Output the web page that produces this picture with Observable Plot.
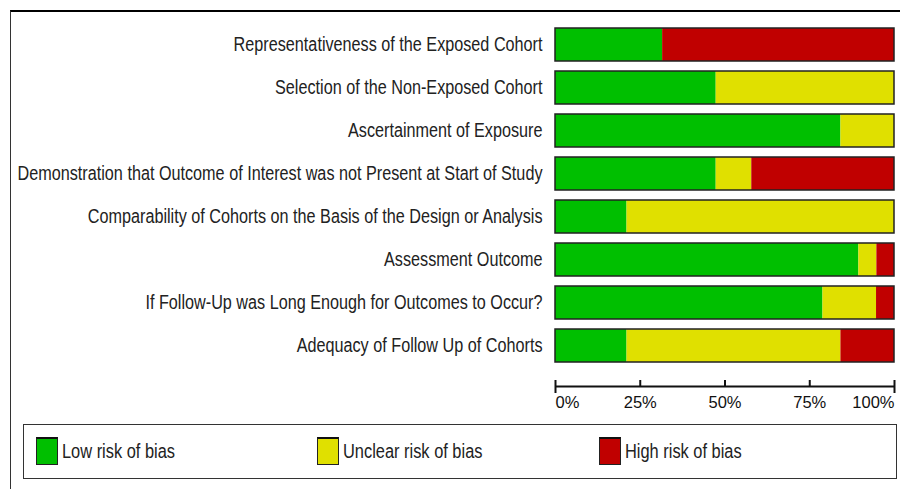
<!DOCTYPE html>
<html>
<head>
<meta charset="utf-8">
<script src="https://cdn.jsdelivr.net/npm/d3@7"></script>
<script src="https://cdn.jsdelivr.net/npm/@observablehq/plot@0.6"></script>
<style>
  html, body { margin: 0; padding: 0; background: #fff; }
  #page { position: relative; width: 900px; height: 489px; overflow: hidden; background: #fff;
          font-family: 'Liberation Sans', Arial, sans-serif; }
  #frame { position: absolute; left: 10px; top: 10px; width: 900px; height: 490px;
           border-top: 2px solid #000; border-left: 1.5px solid #333; }
  #chart { position: absolute; left: 0; top: 0; }
  #axis { position: absolute; left: 0; top: 370px; }
  #legend { position: absolute; left: 23px; top: 424px; width: 872px; height: 53px;
            border: 1.5px solid #333; background: #fff; }
  .item { position: absolute; top: 12px; display: flex; align-items: center; height: 28px; }
  .sw { width: 20px; height: 25px; border: 1px solid #222; border-top: 2px solid #111; margin-right: 4px; flex: none; }
  .lab { font-size: 20px; color: #222; line-height: 28px; display: inline-block;
         transform: scaleX(0.82); transform-origin: left center; white-space: nowrap; }
</style>
</head>
<body>
<div id="page">
  <div id="frame"></div>
  <div id="chart"></div>
  <div id="axis"></div>
  <div id="legend"></div>
</div>
<script>
const categories = [
  "Representativeness of the Exposed Cohort",
  "Selection of the Non-Exposed Cohort",
  "Ascertainment of Exposure",
  "Demonstration that Outcome of Interest was not Present at Start of Study",
  "Comparability of Cohorts on the Basis of the Design or Analysis",
  "Assessment Outcome",
  "If Follow-Up was Long Enough for Outcomes to Occur?",
  "Adequacy of Follow Up of Cohorts"
];
const risks = ["Low risk of bias", "Unclear risk of bias", "High risk of bias"];
const riskColors = ["#00bf00", "#e0e000", "#c00000"];
const lowRisk     = [31.6, 47.4, 84.2, 47.4, 21.1, 89.5, 78.9, 21.1];
const unclearRisk = [ 0.0, 52.6, 15.8, 10.5, 78.9,  5.3, 15.8, 63.1];
const highRisk    = [68.4,  0.0,  0.0, 42.1,  0.0,  5.2,  5.3, 15.8];
const tickValues = [0, 25, 50, 75, 100];
const tickLabels = ["0%", "25%", "50%", "75%", "100%"];

const series = [lowRisk, unclearRisk, highRisk];
const rows = [];
categories.forEach((c, i) => {
  risks.forEach((r, j) => rows.push({category: c, risk: r, value: series[j][i]}));
});

const font = "'Liberation Sans', Arial, sans-serif";

const chart = Plot.plot({
  width: 900,
  height: 380,
  marginLeft: 555,
  marginRight: 6,
  marginTop: 23,
  marginBottom: 13,
  style: {fontFamily: font, color: "#222", background: "transparent"},
  x: {domain: [0, 100], axis: null},
  y: {domain: categories, paddingInner: 10/43, paddingOuter: 5/43, label: null},
  color: {domain: risks, range: riskColors},
  marks: [
    Plot.barX(rows, Plot.stackX({x: "value", y: "category", fill: "risk"})),
    Plot.barX(categories, {x1: 0, x2: 100, y: d => d, fill: "none", stroke: "#222", strokeWidth: 1.5}),
    Plot.axisY({tickSize: 0, tickPadding: 13, fontSize: 20, label: null, fill: "#222"})
  ]
});
document.getElementById("chart").appendChild(chart);

// emulate a narrow face (Arial Narrow ≈ 81% width of Arial)
chart.querySelectorAll("text").forEach(t => {
  const len = t.getComputedTextLength();
  if (len > 0) {
    t.setAttribute("textLength", (len * 0.81).toFixed(2));
    t.setAttribute("lengthAdjust", "spacingAndGlyphs");
  }
});

const axisTicks = tickValues.map((v, i) => ({v, label: tickLabels[i], end: i === 0 || i === tickValues.length - 1}));
const axis = Plot.plot({
  width: 900,
  height: 50,
  marginLeft: 555,
  marginRight: 6,
  marginTop: 0,
  marginBottom: 0,
  style: {fontFamily: font, color: "#111", background: "transparent"},
  x: {domain: [0, 100], axis: null},
  y: {domain: [0, 50], range: [0, 50], axis: null},
  marks: [
    Plot.ruleY([16], {x1: 0, x2: 100, stroke: "#111", strokeWidth: 2}),
    Plot.ruleX(axisTicks, {x: "v", y1: 10, y2: d => d.end ? 23 : 16, stroke: "#111", strokeWidth: 2}),
    Plot.text(axisTicks.slice(0, 1), {x: "v", y: 32, text: "label", textAnchor: "start", fontSize: 16.5, fill: "#111"}),
    Plot.text(axisTicks.slice(1, -1), {x: "v", y: 32, text: "label", textAnchor: "middle", fontSize: 16.5, fill: "#111"}),
    Plot.text(axisTicks.slice(-1), {x: "v", y: 32, text: "label", textAnchor: "end", fontSize: 16.5, fill: "#111"})
  ]
});
document.getElementById("axis").appendChild(axis);

const legend = document.getElementById("legend");
const offsets = [12, 293, 575];
risks.forEach((r, i) => {
  const item = document.createElement("div");
  item.className = "item";
  item.style.left = offsets[i] + "px";
  const sw = document.createElement("div");
  sw.className = "sw";
  sw.style.background = riskColors[i];
  const lab = document.createElement("span");
  lab.className = "lab";
  lab.textContent = r;
  item.appendChild(sw);
  item.appendChild(lab);
  legend.appendChild(item);
});
</script>
</body>
</html>
